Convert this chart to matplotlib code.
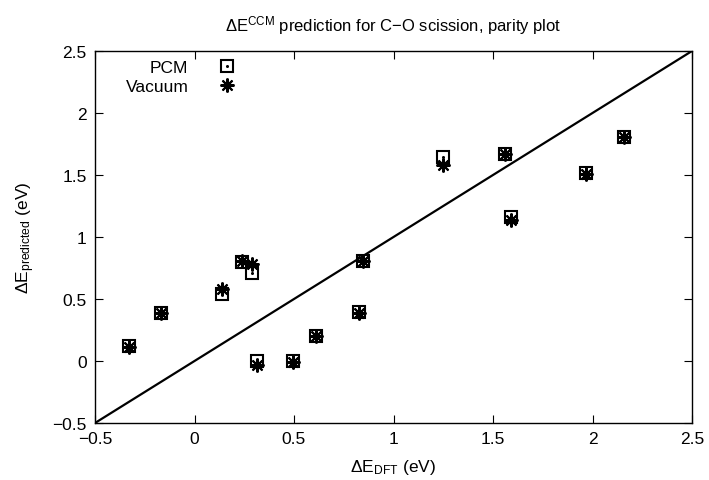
import matplotlib
matplotlib.use("Agg")
import matplotlib.pyplot as plt
from matplotlib.legend_handler import HandlerTuple

plt.rcParams['font.family'] = ['Liberation Sans', 'DejaVu Sans']
plt.rcParams['mathtext.fontset'] = 'custom'
plt.rcParams['mathtext.rm'] = 'Liberation Sans'
plt.rcParams['mathtext.it'] = 'Liberation Sans'

# Data
dE_dft = [-0.33, -0.17, 0.137, 0.237, 0.287, 0.312, 0.497, 0.609, 0.828, 0.848,
          1.250, 1.560, 1.589, 1.967, 2.160]
pcm = [0.125, 0.39, 0.54, 0.80, 0.707, 0.0, 0.0, 0.205, 0.395, 0.805,
       1.645, 1.67, 1.165, 1.515, 1.81]
vacuum = [0.11, 0.39, 0.578, 0.805, 0.785, -0.03, -0.005, 0.205, 0.385, 0.805,
          1.58, 1.67, 1.14, 1.505, 1.81]
parity = [-0.5, 2.5]
ticks = [-0.5, 0, 0.5, 1, 1.5, 2, 2.5]
tick_labels = ['\u22120.5', '0', '0.5', '1', '1.5', '2', '2.5']

fig = plt.figure(figsize=(7.09, 4.81), dpi=100)
ax = fig.add_axes([95/709, 1-424/481, 597/709, 372/481])

ax.plot(parity, parity, color='black', lw=1.6, zorder=2)

sq, = ax.plot(dE_dft, pcm, linestyle='none', marker='s', markersize=9,
              markerfacecolor='none', markeredgecolor='black', markeredgewidth=1.5, zorder=3)
dot, = ax.plot(dE_dft, pcm, linestyle='none', marker='o', markersize=2.2,
               markerfacecolor='black', markeredgecolor='black', markeredgewidth=0, zorder=3)
st, = ax.plot(dE_dft, vacuum, linestyle='none', marker=(8, 2, 0), markersize=10,
              markeredgecolor='black', markeredgewidth=1.5, color='black', zorder=4)

ax.set_xlim(-0.5, 2.5)
ax.set_ylim(-0.5, 2.5)
ax.set_xticks(ticks)
ax.set_xticklabels(tick_labels)
ax.set_yticks(ticks)
ax.set_yticklabels(tick_labels)
ax.tick_params(direction='in', length=5.5, width=0.8, top=True, right=True,
               labelsize=12.5, pad=6, colors='black')
for s in ax.spines.values():
    s.set_linewidth(1.0)

ax.set_xlabel(r'$\mathrm{\Delta E_{DFT}}$ (eV)', fontsize=12.5, labelpad=8)
ax.set_ylabel(r'$\mathrm{\Delta E_{predicted}}$ (eV)', fontsize=12.5, labelpad=11)
ax.set_title(r'$\mathrm{\Delta E^{CCM}}$ prediction for C$-$O scission, parity plot',
             fontsize=12, pad=15)

leg = ax.legend([(sq, dot), st], ['PCM', 'Vacuum'],
                handler_map={tuple: HandlerTuple(ndivide=1)},
                markerfirst=False, frameon=False, loc='upper right',
                bbox_to_anchor=((244-95)/597, (424-61)/372),
                borderaxespad=0, borderpad=0, handletextpad=1.2,
                labelspacing=0.22, fontsize=12.5)

fig.savefig('out.png', dpi=100)
